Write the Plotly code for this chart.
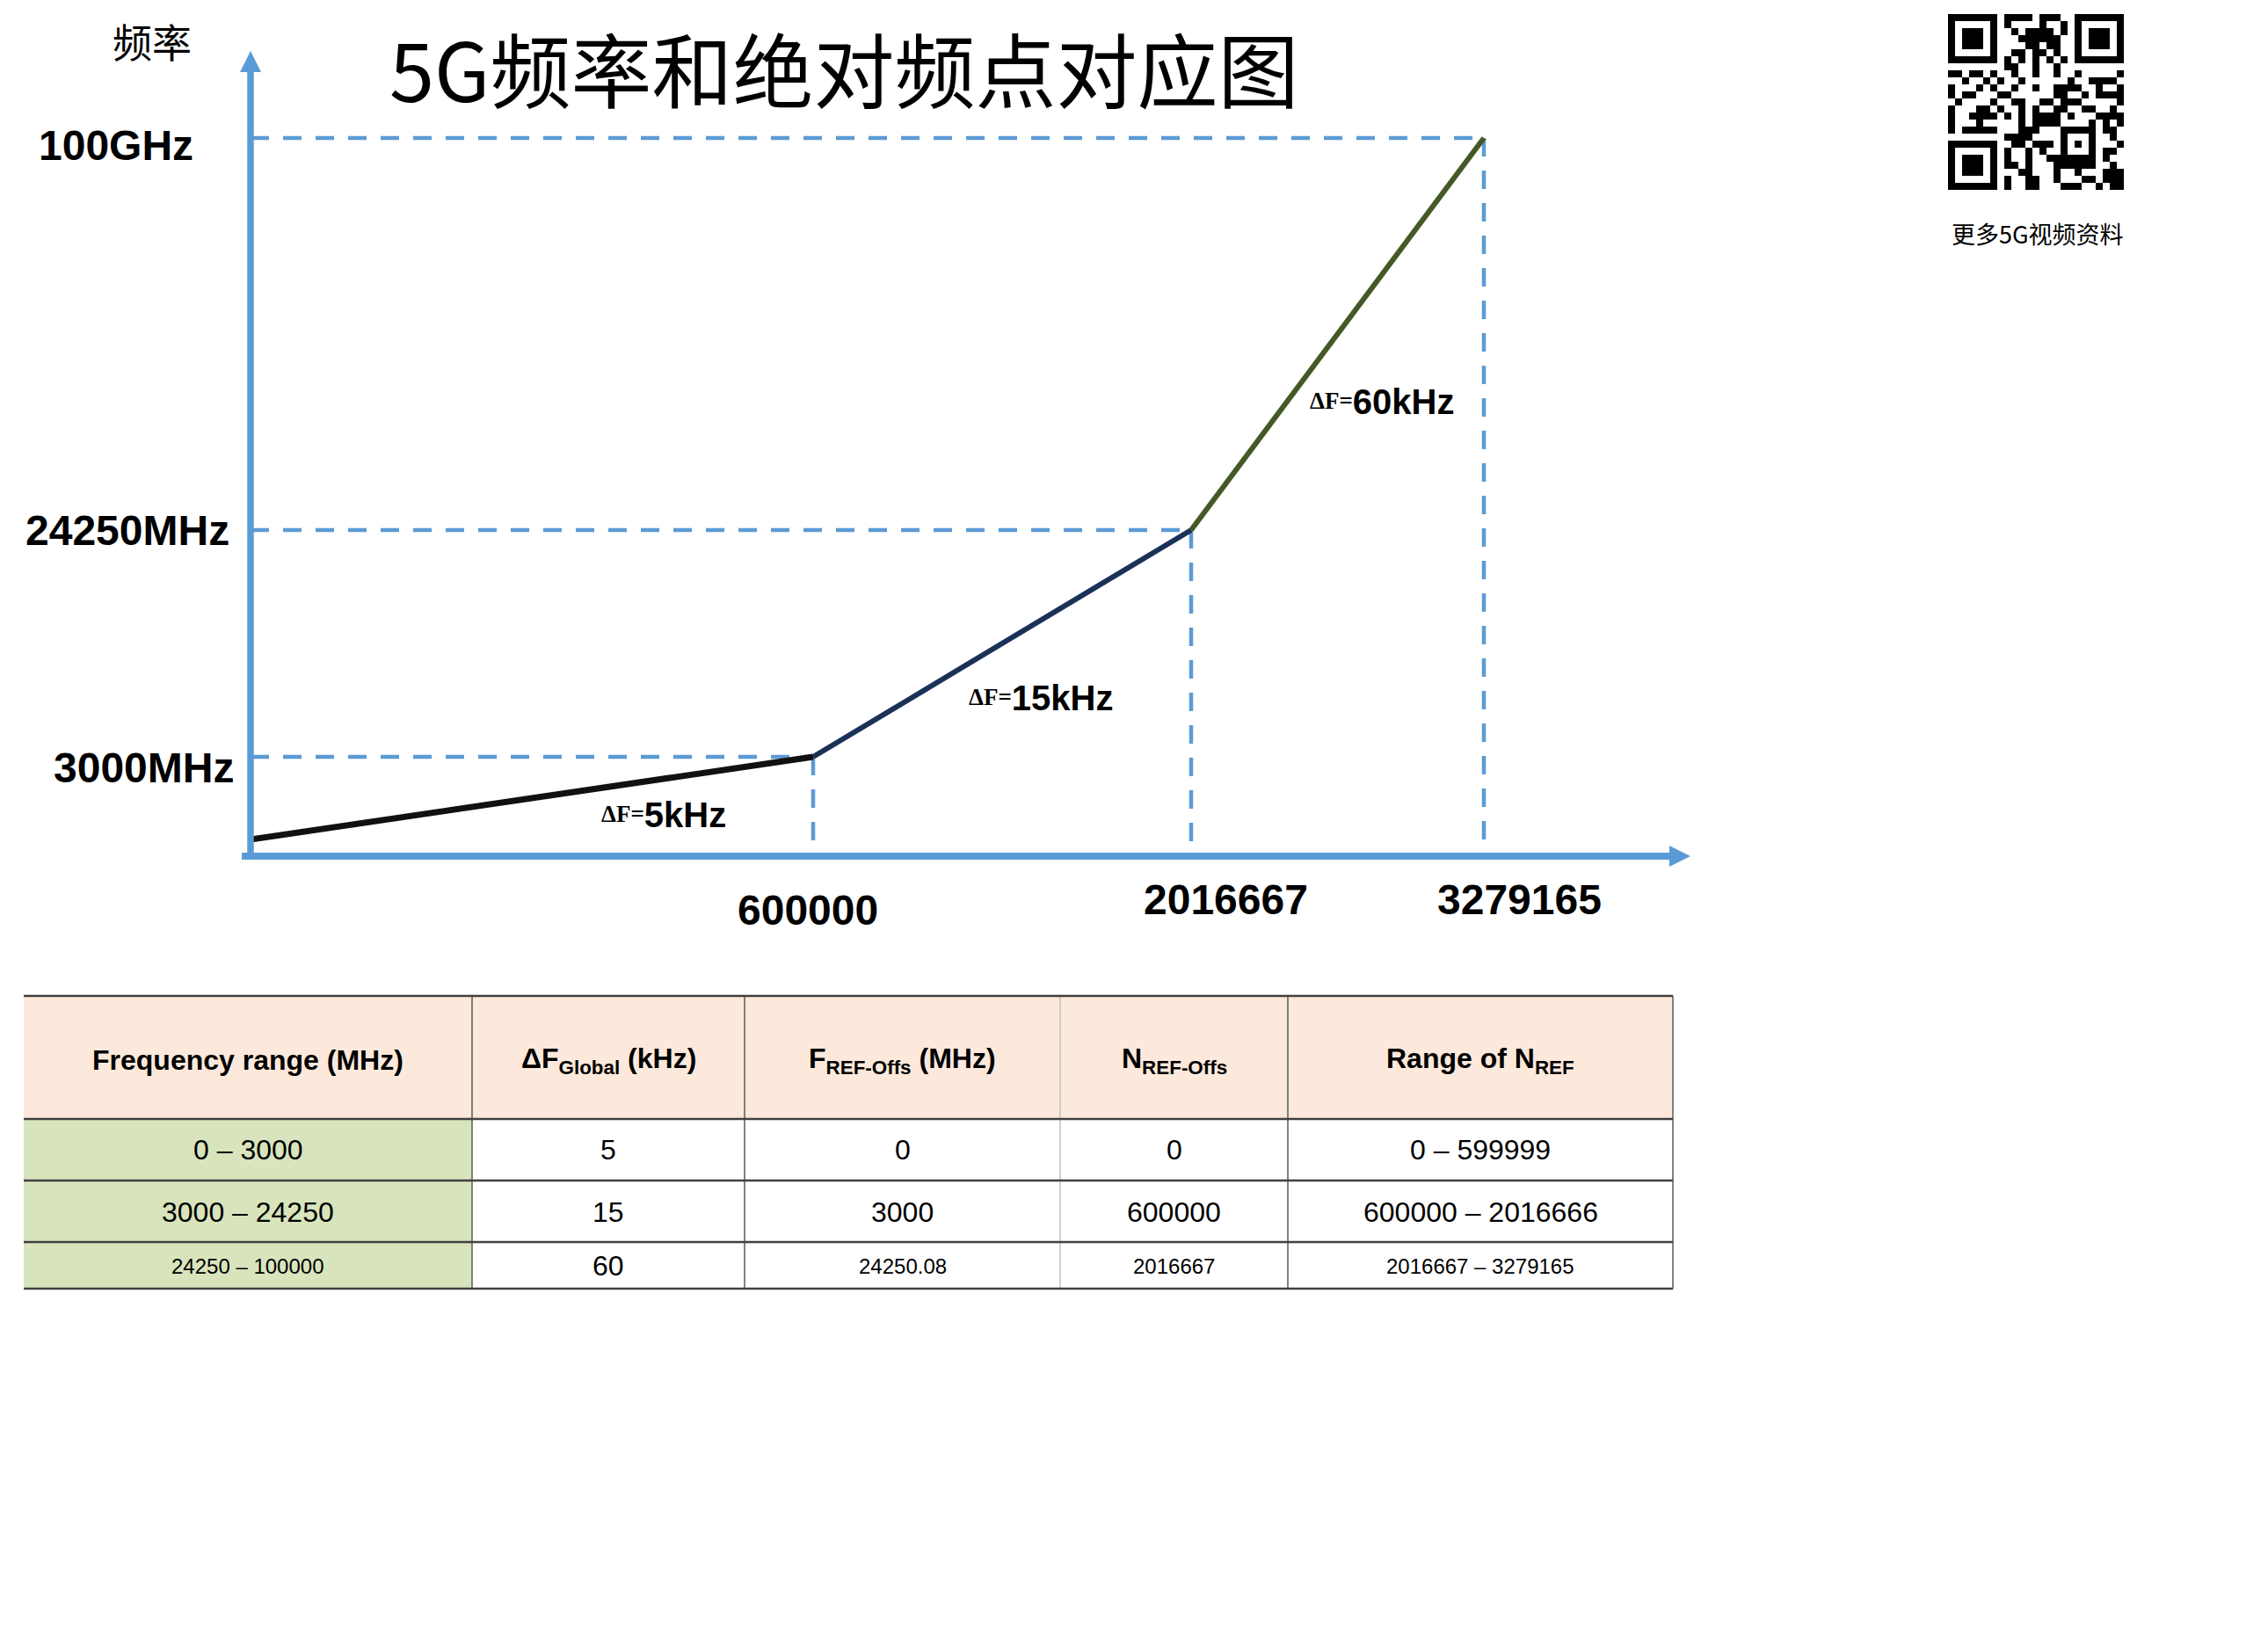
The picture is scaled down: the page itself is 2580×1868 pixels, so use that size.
import numpy as np
import plotly.graph_objects as go

W, H = 2580, 1868

# ---------------- data ----------------
N_REF = [0, 600000, 2016667, 3279165]          # absolute frequency point (N_REF)
FREQ_MHZ = [0, 3000, 24250, 100000]            # frequency (MHz)
FREQ_TICK_TEXT = ["3000MHz", "24250MHz", "100GHz"]
NREF_TICK_TEXT = ["600000", "2016667", "3279165"]
DELTA_F_KHZ = [5, 15, 60]

TABLE_HEADER = ["Frequency range (MHz)", "ΔF<sub>Global</sub> (kHz)",
                "F<sub>REF-Offs</sub> (MHz)", "N<sub>REF-Offs</sub>", "Range of N<sub>REF</sub>"]
COL_FREQ_RANGE = ["0 – 3000", "3000 – 24250", "24250 – 100000"]
COL_DELTA_F = ["5", "15", "60"]
COL_F_REF_OFFS = ["0", "3000", "24250.08"]
COL_N_REF_OFFS = ["0", "600000", "2016667"]
COL_N_REF_RANGE = ["0 – 599999", "600000 – 2016666", "2016667 – 3279165"]

TITLE = "5G频率和绝对频点对应图"
Y_NAME = "频率"
QR_CAPTION = "更多5G视频资料"

QR_ROWS = [
    "1111111011110111001111111",
    "1000001010000100101000001",
    "1011101001011110101011101",
    "1011101000111111001011101",
    "1011101000011011001011101",
    "1000001001101101001000001",
    "1111111010101010101111111",
    "0000000011001001000000000",
]
QR_BLACK = {
    8: [0, 1, 3, 4, 6, 9, 12, 15, 18, 24],
    9: [2, 5, 7, 10, 17, 20, 21, 22, 23],
    10: [0, 4, 6, 9, 12, 15, 16, 17, 18, 21, 24],
    11: [0, 2, 3, 7, 8, 15, 16, 19, 21, 22, 23, 24],
    12: [1, 6, 9, 10, 13, 14, 16, 17, 18, 24],
    13: [0, 4, 5, 7, 10, 12, 15, 16, 19, 20, 23],
    14: [0, 3, 4, 5, 6, 8, 10, 12, 13, 14, 15, 17, 21, 22, 23, 24],
    15: [0, 4, 10, 12, 13, 14, 15, 20, 22, 24],
    16: [0, 2, 3, 4, 5, 6, 10, 11, 12, 16, 17, 18, 19, 20, 22, 23],
    17: [8, 9, 10, 11, 16, 20, 23],
    18: [9, 10, 12, 13, 14, 16, 18, 20, 24],
    19: [8, 11, 13, 16, 20, 22, 23],
    20: [8, 11, 14, 15, 16, 17, 18, 19, 20, 22],
    21: [8, 9, 11, 15, 16, 17, 18, 19, 20, 23],
    22: [10, 11, 15, 18, 22, 23, 24],
    23: [8, 11, 12, 15, 19, 20, 22, 23, 24],
    24: [8, 11, 12, 16, 17, 18, 21, 23, 24],
}
FINDER = ["1111111", "1000001", "1011101", "1011101", "1011101", "1000001", "1111111"]

# ---------------- layout constants (pixels) ----------------
DX, DY = -8, -8                       # global placement correction
ORIGIN_X, ORIGIN_Y = 285, 974
X_TIP, Y_TIP = 1923, 58
# schematic (broken) axis: position of each break along the axis, in px from origin
X_BREAK_POS = [0, 640, 1070, 1403]
Y_BREAK_POS = [19, 113, 371, 817]

AXIS_BLUE = "#5B9BD5"
SEG_COLORS = ["#111111", "#1B3157", "#435A26"]
SEG_WIDTHS = [7, 6, 6]


def sx(v):
    return float(np.interp(v, N_REF, X_BREAK_POS))


def sy(v):
    return float(np.interp(v, FREQ_MHZ, Y_BREAK_POS))


def px(x):
    return (x + DX) / W


def py(y):
    return 1 - (y + DY) / H


fig = go.Figure()

# polyline segments
for i in range(3):
    fig.add_trace(go.Scatter(
        x=[sx(N_REF[i]), sx(N_REF[i + 1])],
        y=[sy(FREQ_MHZ[i]), sy(FREQ_MHZ[i + 1])],
        mode="lines", line=dict(color=SEG_COLORS[i], width=SEG_WIDTHS[i]),
        hoverinfo="skip", showlegend=False, cliponaxis=False))

shapes = []
annotations = []
dash = "21px,16px"
for i in range(1, 4):
    xv, yv = sx(N_REF[i]), sy(FREQ_MHZ[i])
    shapes.append(dict(type="line", xref="x", yref="y", x0=0, y0=yv, x1=xv, y1=yv,
                       line=dict(color=AXIS_BLUE, width=4.5, dash=dash), layer="below"))
    shapes.append(dict(type="line", xref="x", yref="y", x0=xv, y0=yv, x1=xv, y1=6,
                       line=dict(color=AXIS_BLUE, width=4.5, dash=dash), layer="below"))

# axes lines with arrowheads
shapes.append(dict(type="line", xref="paper", yref="paper", x0=px(275), x1=px(X_TIP - 22),
                   y0=py(ORIGIN_Y), y1=py(ORIGIN_Y), line=dict(color=AXIS_BLUE, width=8)))
shapes.append(dict(type="line", xref="paper", yref="paper", x0=px(ORIGIN_X), x1=px(ORIGIN_X),
                   y0=py(ORIGIN_Y + 4), y1=py(Y_TIP + 22), line=dict(color=AXIS_BLUE, width=7.5)))
shapes.append(dict(type="path", xref="paper", yref="paper",
                   path=f"M {px(X_TIP)} {py(ORIGIN_Y)} L {px(X_TIP - 24)} {py(ORIGIN_Y - 12)} "
                        f"L {px(X_TIP - 24)} {py(ORIGIN_Y + 12)} Z",
                   fillcolor=AXIS_BLUE, line=dict(width=0)))
shapes.append(dict(type="path", xref="paper", yref="paper",
                   path=f"M {px(ORIGIN_X)} {py(Y_TIP)} L {px(ORIGIN_X - 12)} {py(Y_TIP + 24)} "
                        f"L {px(ORIGIN_X + 12)} {py(Y_TIP + 24)} Z",
                   fillcolor=AXIS_BLUE, line=dict(width=0)))

BOLD = dict(family="Liberation Sans, Arial, sans-serif", size=48, color="black", weight="bold")

# y labels
Y_LABEL_RIGHT = [268, 263, 222]
Y_LABEL_DY = [12, 0, 9]
for i, t in enumerate(FREQ_TICK_TEXT):
    yc = ORIGIN_Y - sy(FREQ_MHZ[i + 1]) + Y_LABEL_DY[i]
    annotations.append(dict(x=px(Y_LABEL_RIGHT[i]), y=py(yc), xref="paper", yref="paper",
                            text=t, showarrow=False, xanchor="right", yanchor="middle", font=BOLD))

# x labels
X_LABEL_DX = [-6, 39, 40]
X_LABEL_Y = [1035, 1023, 1023]
for i, t in enumerate(NREF_TICK_TEXT):
    xc = ORIGIN_X + sx(N_REF[i + 1]) + X_LABEL_DX[i]
    annotations.append(dict(x=px(xc), y=py(X_LABEL_Y[i]), xref="paper", yref="paper",
                            text=t, showarrow=False, xanchor="center", yanchor="middle", font=BOLD))

# delta F labels
DF_POS = [(755, 927), (1184, 794), (1572, 457)]
for i, d in enumerate(DELTA_F_KHZ):
    txt = ("<span style=\"font-family:'Liberation Serif',serif;font-size:27px;"
           "baseline-shift:6px\">ΔF=</span>"
           f"{d}kHz")
    annotations.append(dict(x=px(DF_POS[i][0]), y=py(DF_POS[i][1]), xref="paper", yref="paper",
                            text=txt, showarrow=False, xanchor="center", yanchor="middle",
                            font=dict(family="Liberation Sans, Arial, sans-serif", size=40,
                                      color="black", weight="bold")))

# title & axis name
annotations.append(dict(x=px(960), y=py(75), xref="paper", yref="paper", text=TITLE,
                        showarrow=False, xanchor="center", yanchor="middle",
                        font=dict(family="Noto Sans CJK SC", size=92, color="black")))
annotations.append(dict(x=px(173), y=py(46), xref="paper", yref="paper", text=Y_NAME,
                        showarrow=False, xanchor="center", yanchor="middle",
                        font=dict(family="Noto Sans CJK SC", size=45, color="black")))

# QR code
qr = np.zeros((25, 25), dtype=int)
for r, row in enumerate(QR_ROWS):
    for c, ch in enumerate(row):
        qr[r, c] = int(ch)
for r, cols in QR_BLACK.items():
    for c in cols:
        qr[r, c] = 1
for r in range(7):
    for c in range(7):
        qr[18 + r, c] = int(FINDER[r][c])
fig.add_trace(go.Heatmap(z=qr, xaxis="x2", yaxis="y2", colorscale=[[0, "white"], [1, "black"]],
                         showscale=False, hoverinfo="skip", zmin=0, zmax=1))
annotations.append(dict(x=px(2318), y=py(265), xref="paper", yref="paper", text=QR_CAPTION,
                        showarrow=False, xanchor="center", yanchor="middle",
                        font=dict(family="Noto Sans CJK SC", size=27, color="black")))

# table
COL_X = [27, 537, 847, 1206, 1465, 1903]
ROW_Y = [1133, 1273, 1343, 1413, 1466]
HEADER_FILL = "#FCE9DB"
FIRST_COL_FILL = "#D8E4BC"
shapes.append(dict(type="rect", xref="paper", yref="paper", x0=px(COL_X[0]), x1=px(COL_X[-1]),
                   y0=py(ROW_Y[0]), y1=py(ROW_Y[1]), fillcolor=HEADER_FILL, line=dict(width=0),
                   layer="below"))
shapes.append(dict(type="rect", xref="paper", yref="paper", x0=px(COL_X[0]), x1=px(COL_X[1]),
                   y0=py(ROW_Y[1]), y1=py(ROW_Y[-1]), fillcolor=FIRST_COL_FILL, line=dict(width=0),
                   layer="below"))
for j, xv in enumerate(COL_X[1:]):
    col = "#C0C0C0" if xv == 1206 else "#595959"
    shapes.append(dict(type="line", xref="paper", yref="paper", x0=px(xv), x1=px(xv),
                       y0=py(ROW_Y[0]), y1=py(ROW_Y[-1]), line=dict(color=col, width=1.5)))
for yv in ROW_Y:
    shapes.append(dict(type="line", xref="paper", yref="paper", x0=px(COL_X[0]), x1=px(COL_X[-1]),
                       y0=py(yv), y1=py(yv), line=dict(color="#404040", width=2.5)))

col_centers = [(COL_X[k] + COL_X[k + 1]) / 2 for k in range(5)]
for k, h in enumerate(TABLE_HEADER):
    annotations.append(dict(x=px(col_centers[k]), y=py(1206), xref="paper", yref="paper",
                            text=f"<b>{h}</b>", showarrow=False, xanchor="center", yanchor="middle",
                            font=dict(family="Liberation Sans, Arial, sans-serif", size=32, color="black")))
columns = [COL_FREQ_RANGE, COL_DELTA_F, COL_F_REF_OFFS, COL_N_REF_OFFS, COL_N_REF_RANGE]
ROW_CENTERS = [1308, 1379, 1440]
for r in range(3):
    for k in range(5):
        size = 32 if (r < 2 or k == 1) else 24
        annotations.append(dict(x=px(col_centers[k]), y=py(ROW_CENTERS[r]), xref="paper", yref="paper",
                                text=columns[k][r], showarrow=False, xanchor="center", yanchor="middle",
                                font=dict(family="Liberation Sans, Arial, sans-serif", size=size,
                                          color="black")))

fig.update_layout(
    width=W, height=H, margin=dict(l=0, r=0, t=0, b=0),
    paper_bgcolor="white", plot_bgcolor="white", showlegend=False,
    xaxis=dict(domain=[px(ORIGIN_X), px(X_TIP)], range=[0, X_TIP - ORIGIN_X], visible=False, fixedrange=True),
    yaxis=dict(domain=[py(ORIGIN_Y), py(Y_TIP)], range=[0, ORIGIN_Y - Y_TIP], visible=False, fixedrange=True),
    xaxis2=dict(domain=[px(2216), px(2416)], range=[-0.5, 24.5], visible=False, anchor="y2"),
    yaxis2=dict(domain=[py(216), py(16)], range=[24.5, -0.5], visible=False, anchor="x2"),
    shapes=shapes, annotations=annotations,
)

fig.write_html("out.html")
